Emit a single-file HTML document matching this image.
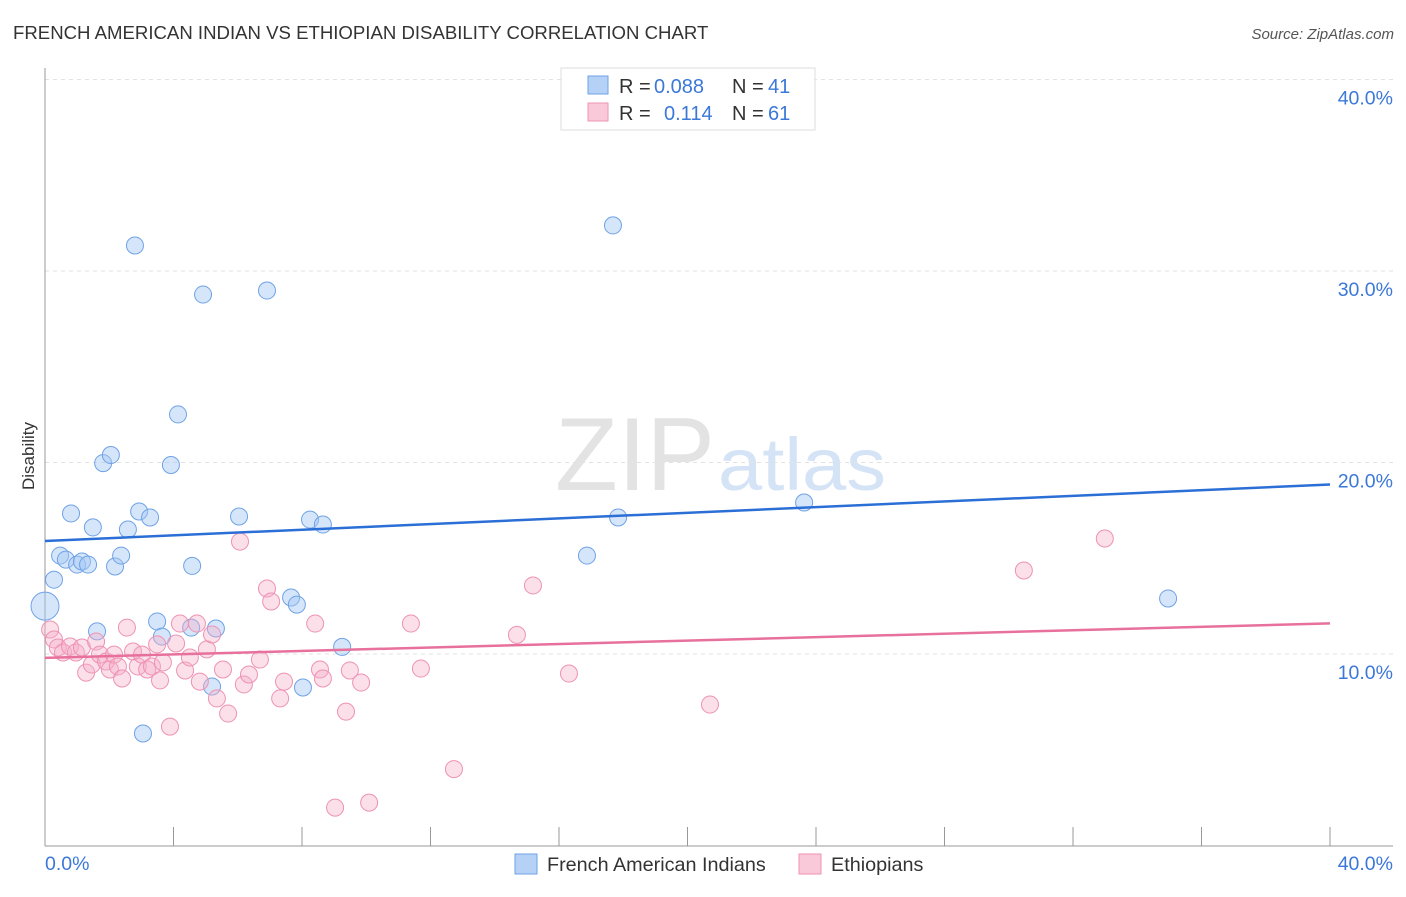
<!DOCTYPE html>
<html><head><meta charset="utf-8">
<style>
body{margin:0;background:#fff;font-family:"Liberation Sans",sans-serif;}
svg text{font-family:"Liberation Sans",sans-serif;}
</style></head>
<body>
<svg id="chart" width="1406" height="892" xmlns="http://www.w3.org/2000/svg">
<text x="13" y="39" font-size="18.6" fill="#333">FRENCH AMERICAN INDIAN VS ETHIOPIAN DISABILITY CORRELATION CHART</text>
<text x="1394" y="39" font-size="15" fill="#555" text-anchor="end" font-style="italic">Source: ZipAtlas.com</text>
<text x="555" y="490" font-size="104" fill="#e3e3e3" font-family="Liberation Serif" textLength="160" lengthAdjust="spacingAndGlyphs">ZIP</text>
<text x="718" y="490" font-size="74" fill="#d4e3f5" textLength="168" lengthAdjust="spacingAndGlyphs">atlas</text>
<g id="grid"></g>
<line x1="45" y1="68" x2="45" y2="846" stroke="#999"/>
<line x1="45" y1="846" x2="1393" y2="846" stroke="#999"/>
<g id="xticks"></g>
<text transform="translate(34,456) rotate(-90)" font-size="17" fill="#333" text-anchor="middle">Disability</text>
<text x="45" y="870" font-size="19.5" fill="#3b78d8">0.0%</text>
<text x="1393" y="870" font-size="19.5" fill="#3b78d8" text-anchor="end">40.0%</text>
<g id="points"></g>
<g id="lines"></g>
<g>
<rect x="561" y="68" width="254" height="62" fill="#fff" stroke="#ddd"/>
<rect x="588" y="76" width="20" height="18" fill="#b5d1f5" stroke="#6fa2e6"/>
<rect x="588" y="103" width="20" height="18" fill="#f9c9d9" stroke="#ee92b4"/>
<text x="619" y="93" font-size="20" fill="#333">R =</text>
<text x="654" y="93" font-size="20" fill="#3b78d8">0.088</text>
<text x="732" y="93" font-size="20" fill="#333">N =</text>
<text x="768" y="93" font-size="20" fill="#3b78d8">41</text>
<text x="619" y="120" font-size="20" fill="#333">R =</text>
<text x="664" y="120" font-size="20" fill="#3b78d8">0.114</text>
<text x="732" y="120" font-size="20" fill="#333">N =</text>
<text x="768" y="120" font-size="20" fill="#3b78d8">61</text>
</g>
<rect x="515" y="854" width="22" height="20" fill="#b5d1f5" stroke="#6fa2e6"/>
<text x="547" y="871" font-size="19.8" fill="#333">French American Indians</text>
<rect x="799" y="854" width="22" height="20" fill="#f9c9d9" stroke="#ee92b4"/>
<text x="831" y="871" font-size="19.8" fill="#333">Ethiopians</text>
</svg>
<script>
const yTicks=[10,20,30,40];
const yTickLabels=["10.0%","20.0%","30.0%","40.0%"];
const blueX=[0.0,0.28,0.47,0.65,0.81,1.0,1.15,1.34,1.49,1.62,1.81,2.05,2.18,2.37,2.58,2.8,2.93,3.05,3.27,3.49,3.64,3.92,4.14,4.55,4.58,4.92,5.2,5.32,6.04,6.91,7.66,7.84,8.03,8.25,8.65,9.25,16.87,17.68,17.84,23.63,34.96];
const blueY=[12.5,13.88,15.14,14.93,17.34,14.67,14.83,14.67,16.61,11.18,19.97,20.39,14.57,15.14,16.5,31.33,17.44,5.85,17.13,11.7,10.91,19.87,22.51,11.38,14.6,28.77,8.3,11.33,17.18,28.98,12.95,12.58,8.25,17.02,16.76,10.37,15.14,32.38,17.13,17.91,12.9];
const pinkX=[0.16,0.28,0.4,0.56,0.78,0.96,1.15,1.28,1.46,1.59,1.71,1.9,2.02,2.15,2.27,2.4,2.55,2.74,2.89,3.02,3.18,3.33,3.49,3.58,3.67,3.89,4.08,4.2,4.36,4.51,4.73,4.82,5.04,5.2,5.35,5.54,5.7,6.07,6.19,6.35,6.69,6.91,7.04,7.32,7.44,8.41,8.56,8.65,9.03,9.37,9.49,9.84,10.09,11.39,11.7,12.73,14.69,15.19,16.31,20.7,30.47,32.99];
const pinkY=[11.28,10.76,10.34,10.08,10.39,10.08,10.34,9.03,9.45,10.65,9.97,9.61,9.19,9.97,9.35,8.72,11.38,10.13,9.35,9.97,9.19,9.35,10.5,8.62,9.56,6.21,10.55,11.59,9.14,9.82,11.59,8.56,10.24,11.02,7.68,9.19,6.89,15.87,8.41,8.93,9.71,13.42,12.74,7.68,8.56,11.59,9.19,8.72,1.98,6.99,9.14,8.51,2.24,11.59,9.24,3.99,11.0,13.58,8.98,7.36,14.36,16.03];
const blueTrend=[15.9,18.85];
const pinkTrend=[9.8,11.6];
const NS="http://www.w3.org/2000/svg";
const X0=45,X1=1330,Y0=845.5,PPY=19.15;
function sx(v){return X0+(v/40)*(X1-X0);}
function sy(v){return Y0-v*PPY;}
function mk(t,a,p){const e=document.createElementNS(NS,t);for(const k in a)e.setAttribute(k,a[k]);p.appendChild(e);return e;}
const grid=document.getElementById('grid');
yTicks.forEach((t,i)=>{
  const l=mk('line',{x1:45,x2:1393,y1:sy(t),y2:sy(t),stroke:'#e2e2e2','stroke-dasharray':'4,4'},grid);
  
  
  const tx=mk('text',{x:1393,y:sy(t)+25,'font-size':19.5,fill:'#3b78d8','text-anchor':'end'},grid);
  tx.textContent=yTickLabels[i];
  
  
});
const xt=document.getElementById('xticks');
for(let i=0;i<=10;i++){
  const l=mk('line',{x1:sx(i*4),x2:sx(i*4),y1:827,y2:846,stroke:'#999'},xt);
  
  
}
const pts=document.getElementById('points');
blueX.forEach((x,i)=>{
  const c=mk('circle',{cx:sx(x),cy:sy(blueY[i]),r:i==0?14:8.5,fill:'rgba(164,199,243,0.45)',stroke:'#6fa2e6','stroke-width':1},pts);
  
  
});
pinkX.forEach((x,i)=>{
  const c=mk('circle',{cx:sx(x),cy:sy(pinkY[i]),r:8.5,fill:'rgba(246,176,200,0.4)',stroke:'#ee92b4','stroke-width':1},pts);
  
  
});
const ln=document.getElementById('lines');
const bl=mk('line',{x1:sx(0),x2:sx(40),y1:sy(blueTrend[0]),y2:sy(blueTrend[1]),stroke:'#2b6fd6','stroke-width':2.5},ln);


const pl=mk('line',{x1:sx(0),x2:sx(40),y1:sy(pinkTrend[0]),y2:sy(pinkTrend[1]),stroke:'#e8709c','stroke-width':2.5},ln);


</script>
</body></html>
